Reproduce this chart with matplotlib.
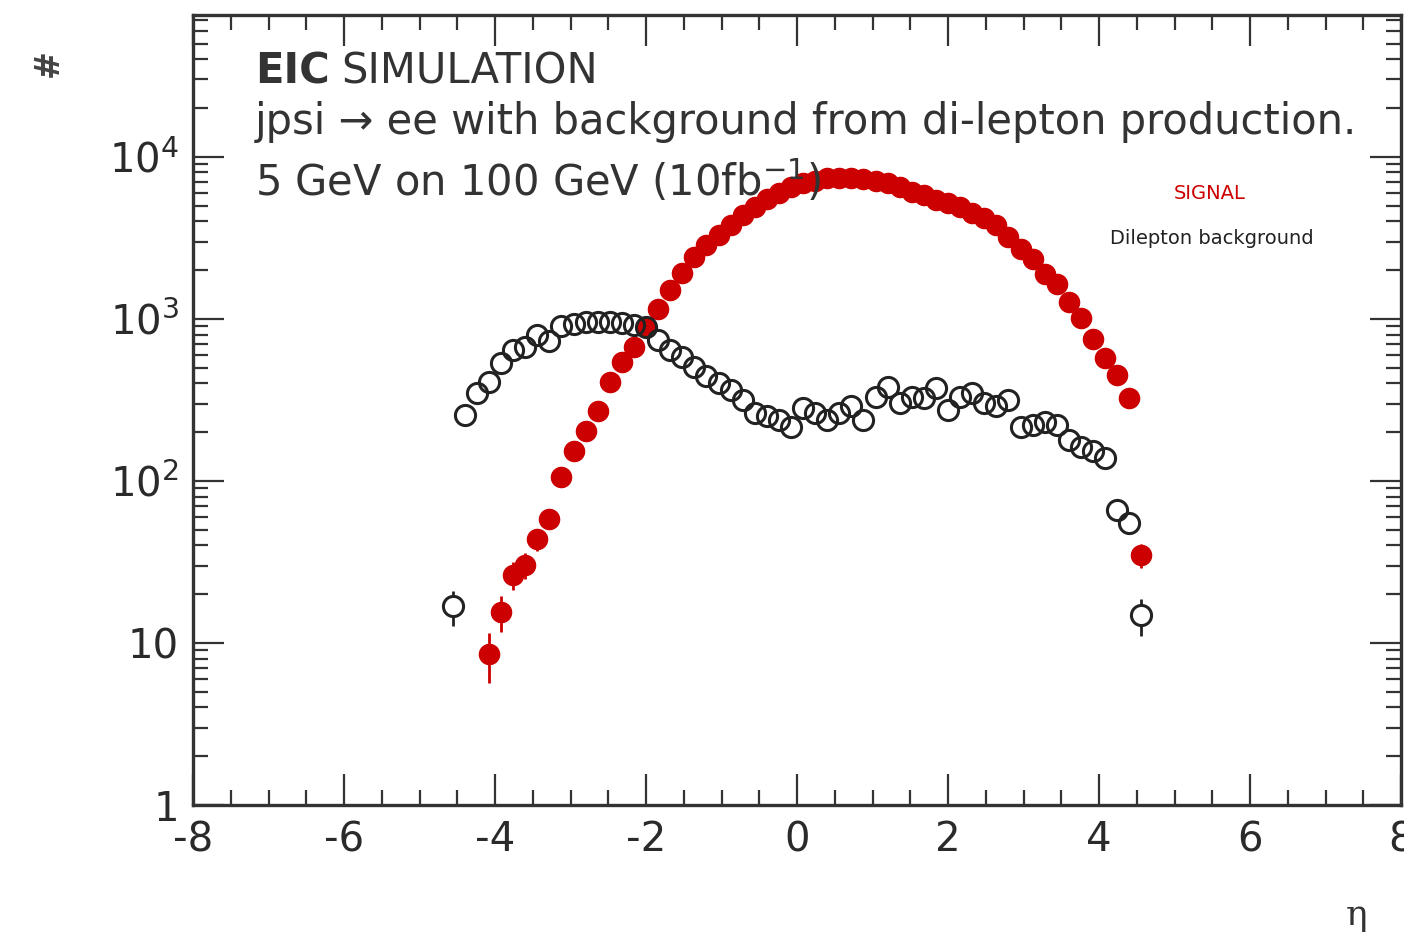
import numpy as np
import matplotlib
matplotlib.use("Agg")
import matplotlib.pyplot as plt
from matplotlib.ticker import MultipleLocator, LogLocator, NullFormatter

plt.rcParams['font.family'] = ['DejaVu Sans']
plt.rcParams['mathtext.fontset'] = 'dejavusans'

# ---- data (bin centres of 100 bins in [-8, 8]) ----
signal_eta = [-4.08, -3.92, -3.76, -3.60, -3.44, -3.28, -3.12, -2.96, -2.80, -2.64,
              -2.48, -2.32, -2.16, -2.00, -1.84, -1.68, -1.52, -1.36, -1.20, -1.04,
              -0.88, -0.72, -0.56, -0.40, -0.24, -0.08, 0.08, 0.24, 0.40, 0.56,
              0.72, 0.88, 1.04, 1.20, 1.36, 1.52, 1.68, 1.84, 2.00, 2.16,
              2.32, 2.48, 2.64, 2.80, 2.96, 3.12, 3.28, 3.44, 3.60, 3.76,
              3.92, 4.08, 4.24, 4.40, 4.56]
signal_counts = [8.55, 15.6, 26.3, 30.3, 43.6, 58, 106, 154, 204, 270,
                 410, 545, 675, 897, 1148, 1510, 1915, 2425, 2865, 3300,
                 3800, 4385, 4930, 5500, 6000, 6500, 6850, 7100, 7350, 7450,
                 7350, 7250, 7050, 6850, 6500, 6100, 5800, 5450, 5200, 4900,
                 4500, 4200, 3800, 3200, 2700, 2350, 1900, 1650, 1279, 1010,
                 750, 572, 451, 324, 34.9]

bkg_eta = [-4.56, -4.40, -4.24, -4.08, -3.92, -3.76, -3.60, -3.44, -3.28, -3.12,
           -2.96, -2.80, -2.64, -2.48, -2.32, -2.16, -2.00, -1.84, -1.68, -1.52,
           -1.36, -1.20, -1.04, -0.88, -0.72, -0.56, -0.40, -0.24, -0.08, 0.08,
           0.24, 0.40, 0.56, 0.72, 0.88, 1.04, 1.20, 1.36, 1.52, 1.68,
           1.84, 2.00, 2.16, 2.32, 2.48, 2.64, 2.80, 2.96, 3.12, 3.28,
           3.44, 3.60, 3.76, 3.92, 4.08, 4.24, 4.40, 4.56]
bkg_counts = [16.8, 255, 347, 410, 533, 644, 675, 797, 725, 900,
              930, 950, 960, 960, 940, 920, 896, 742, 644, 585,
              508, 441, 401, 365, 316, 262, 250, 238, 216, 281,
              262, 238, 262, 288, 238, 331, 382, 301, 331, 323,
              373, 274, 331, 347, 301, 288, 316, 216, 220, 232,
              220, 179, 163, 152, 138, 66, 54.8, 14.9]

x_ticks = [-8, -6, -4, -2, 0, 2, 4, 6, 8]
x_tick_labels = ['-8', '-6', '-4', '-2', '0', '2', '4', '6', '8']
y_ticks = [1, 10, 100, 1000, 10000]
y_tick_labels = ['1', '10', r'$10^{2}$', r'$10^{3}$', r'$10^{4}$']

RED = '#cc0000'
BLACK = '#222222'
GREY = '#333333'

fig = plt.figure(figsize=(14.04, 9.42), dpi=100)
ax = fig.add_axes([0.1375, 0.1454, 0.8604, 0.8387])
ax.set_yscale('log')
ax.set_xlim(-8, 8)
ax.set_ylim(1, 7.5e4)

ms = 14.5
dec_px = ax.get_window_extent().height / np.log10(7.5e4)
gap = (ms / 72 * 100 / 2) / dec_px

s_eta = np.array(signal_eta)
s_y = np.array(signal_counts)
s_err = np.sqrt(s_y)
ax.vlines(s_eta, s_y - s_err, s_y + s_err, color=RED, lw=2, zorder=2)
ax.plot(s_eta, s_y, 'o', ms=ms, color=RED, mec=RED, zorder=3)

b_eta = np.array(bkg_eta)
b_y = np.array(bkg_counts)
b_err = np.sqrt(b_y)
lo_in = b_y * 10 ** (-gap)
hi_in = b_y * 10 ** (gap)
lo = b_y - b_err
hi = b_y + b_err
m_lo = lo < lo_in
m_hi = hi > hi_in
ax.vlines(b_eta[m_lo], lo[m_lo], lo_in[m_lo], color=BLACK, lw=2, zorder=2)
ax.vlines(b_eta[m_hi], hi_in[m_hi], hi[m_hi], color=BLACK, lw=2, zorder=2)
ax.plot(b_eta, b_y, 'o', ms=ms, mfc='none', mec=BLACK, mew=2.2, zorder=4)

# axes styling (ROOT-like)
ax.set_xticks(x_ticks)
ax.set_xticklabels(x_tick_labels)
ax.xaxis.set_minor_locator(MultipleLocator(0.5))
ax.yaxis.set_minor_locator(LogLocator(base=10, subs=np.arange(2, 10), numticks=20))
ax.yaxis.set_minor_formatter(NullFormatter())
ax.set_yticks(y_ticks)
ax.set_yticklabels(y_tick_labels)
ax.tick_params(which='both', direction='in', top=True, right=True, color=GREY, labelcolor='#2a2a2a')
ax.tick_params(which='major', length=22, width=1.6, labelsize=29)
ax.tick_params(axis='x', which='major', pad=11)
ax.tick_params(axis='y', which='major', pad=10)
ax.tick_params(which='minor', length=11, width=1.6)
for sp in ax.spines.values():
    sp.set_linewidth(2.4)
    sp.set_color(GREY)

# axis titles
fig.text(48 / 1404, 1 - 63 / 942, '#', rotation=90, fontsize=24, fontweight='bold',
         ha='center', va='center', color='#444444')
fig.text(1357 / 1404, 1 - 915 / 942, '\u03b7', fontsize=26, ha='center', va='center', color=GREY,
         family=['DejaVu Serif'])

# header texts
txt_kw = dict(fontsize=30, color=GREY, va='baseline', ha='left', zorder=10)
t1 = fig.text(255 / 1404, 1 - 84 / 942, 'EIC', weight='bold', **txt_kw)
fig.canvas.draw()
bb = t1.get_window_extent()
fig.text((bb.x1 + 12) / 1404, 1 - 84 / 942, 'SIMULATION', **txt_kw)
fig.text(255 / 1404, 1 - 134 / 942, 'jpsi \u2192 ee with background from di-lepton production.', **txt_kw)
fig.text(255 / 1404, 1 - 196 / 942, r'5 GeV on 100 GeV (10fb$^{-1}$)', **txt_kw)

# legend-like labels
fig.text(1210 / 1404, 1 - 193 / 942, 'SIGNAL', fontsize=14, color=RED, ha='center', va='center')
fig.text(1212 / 1404, 1 - 238 / 942, 'Dilepton background', fontsize=14, color=BLACK, ha='center', va='center')

fig.savefig('out.png', dpi=100)
